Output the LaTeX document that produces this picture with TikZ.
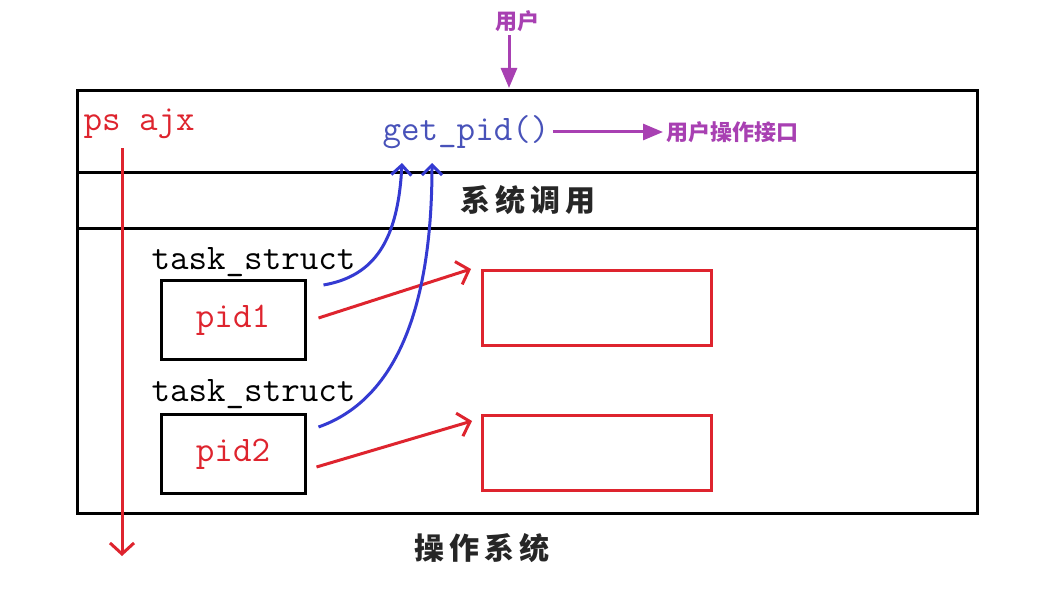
\documentclass[tikz,border=0pt]{standalone}
\usepackage{fontspec}
\newfontfamily\cjk{Noto Sans CJK SC}
\usetikzlibrary{arrows.meta}

\definecolor{pidred}{RGB}{222,36,46}
\definecolor{userpurple}{RGB}{168,64,178}
\definecolor{callblue}{RGB}{52,58,210}
\definecolor{getblue}{RGB}{72,82,185}

\begin{document}
\begin{tikzpicture}[x=1pt,y=-1pt,
		code/.style={font=\fontsize{36}{36}\selectfont\ttfamily},
		hanzi/.style={font=\fontsize{30}{30}\selectfont\cjk\bfseries,text=black!85},
		userlbl/.style={text=userpurple,font=\fontsize{22}{22}\selectfont\cjk\bfseries},
		pidbox/.style={draw,line width=3pt,minimum width=144pt,minimum height=79pt,code,text=pidred},
		membox/.style={draw=pidred,line width=3pt,minimum width=229pt,minimum height=75pt},
		redarr/.style={draw=pidred,line width=3pt,-{Straight Barb[length=11pt,width=24pt]}},
		bluearr/.style={draw=callblue,line width=3pt,-{Straight Barb[length=10pt,width=20pt]}},
		purparr/.style={draw=userpurple,line width=3pt,-{Triangle[length=20pt,width=16pt]}}]
		\useasboundingbox (0,0) rectangle (1038,607);
		% layers of the system
		\draw[line width=3pt] (77,91) rectangle (977,513);
		\draw[line width=3pt] (77,172) -- (977,172);
		\draw[line width=3pt] (77,228) -- (977,228);
		\node[userlbl] (user) at (517,21) {用户};
		\coordinate (top) at (509,88);
		\draw[purparr] (user.south -| top) -- (top);
		\node[code,text=getblue] (get) at (466,132) {get\_pid()};
		\node[userlbl,anchor=west] (api) at (663,132) {用户操作接口};
		\draw[purparr] (get.east) -- (api.west);
		\node[code,text=pidred,anchor=west] (ps) at (80,124) {ps ajx};
		\coordinate (psend) at (122,556);
		\draw[redarr] (122,148) -- (psend);
		\node[hanzi] (call) at (528,200) {系\,统\,调\,用};
		\node[hanzi] (os) at (482,548) {操\,作\,系\,统};
		% processes
		\node[code,anchor=west] (ts1) at (148,262) {task\_struct};
		\node[pidbox] (pid1) at (233,320) {pid1};
		\node[code,anchor=west] (ts2) at (148,394) {task\_struct};
		\node[pidbox] (pid2) at (233,454) {pid2};
		\node[membox] (mem1) at (597,308) {};
		\node[membox] (mem2) at (597,453) {};
		\draw[redarr] ([xshift=12pt,yshift=2pt]pid1.east) -- ([xshift=-10pt]mem1.north west);
		\draw[redarr] ([xshift=10pt,yshift=-13pt]pid2.east) -- ([xshift=-9pt,yshift=-7pt]mem2.north west);
		% system calls up to get_pid
		\coordinate (g1) at (402,163);
		\coordinate (g2) at (432,163);
		\draw[bluearr] ([xshift=17pt,yshift=-6pt]pid1.north east) .. controls (375,276) and (398,240) .. (g1);
		\draw[bluearr] ([xshift=12pt,yshift=-14pt]pid2.north east) .. controls (395,400) and (432,310) .. (g2);
\end{tikzpicture}
\end{document}
